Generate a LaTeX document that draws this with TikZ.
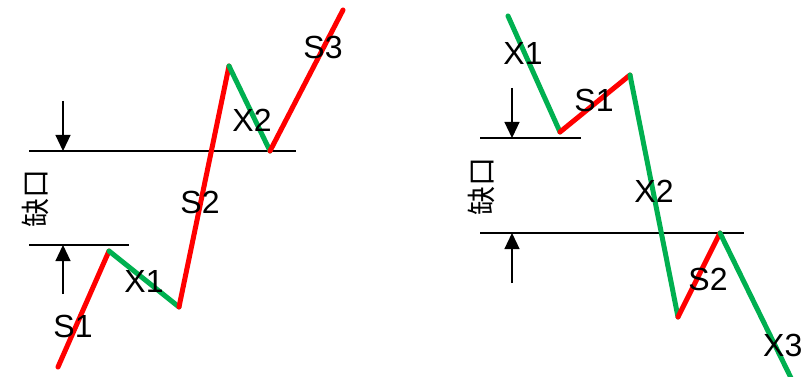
\documentclass[tikz,border=0pt]{standalone}
\usepackage{fontspec}
\setmainfont{Liberation Sans}
\newfontfamily\cjk{Noto Sans CJK SC}
\usetikzlibrary{arrows.meta}
\definecolor{upred}{HTML}{FF0000}
\definecolor{downgreen}{HTML}{00B050}
\tikzset{
  upseg/.style={draw=upred, line width=5pt, line cap=round},
  downseg/.style={draw=downgreen, line width=5pt, line cap=round},
  refline/.style={draw=black, line width=1.2pt},
  gaparrow/.style={draw=black, line width=1.2pt, -{Triangle[length=16pt,width=15pt]}},
  lbl/.style={font=\fontsize{32}{32}\selectfont, inner sep=0pt},
  gaplbl/.style={font=\cjk\fontsize{29}{29}\selectfont, rotate=90, inner sep=0pt}
}
\begin{document}
\begin{tikzpicture}[x=1pt,y=-1pt]
\useasboundingbox (0,0) rectangle (803,377);
% ---- left diagram ----
\coordinate (a0) at (58,367);
\coordinate (a1) at (109,251);
\coordinate (a2) at (179,307);
\coordinate (a3) at (229,66);
\coordinate (a4) at (270,151);
\coordinate (a5) at (343,10);
\coordinate (lu1) at (29,151);
\coordinate (lu2) at (296,151);
\coordinate (ll1) at (29,245);
\coordinate (ll2) at (129,245);
\coordinate (ld0) at (63,101);
\coordinate (ld1) at (63,151);
\coordinate (lp0) at (63,294);
\coordinate (lp1) at (63,245);
\draw[refline] (lu1) -- (lu2);
\draw[refline] (ll1) -- (ll2);
\draw[gaparrow] (ld0) -- (ld1);
\draw[gaparrow] (lp0) -- (lp1);
\path[upseg] (a0) -- (a1);
\path[downseg] (a1) -- (a2);
\path[upseg] (a2) -- (a3);
\path[downseg] (a3) -- (a4);
\path[upseg] (a4) -- (a5);
\node[lbl] (ls1) at (73,326) {S1};
\node[lbl] (lx1) at (144,281) {X1};
\node[lbl] (ls2) at (200,202) {S2};
\node[lbl] (lx2) at (252,120) {X2};
\node[lbl] (ls3) at (323,47) {S3};
\node[gaplbl] (lgap) at (35,198) {缺口};
% ---- right diagram ----
\coordinate (b0) at (508,16);
\coordinate (b1) at (560,132);
\coordinate (b2) at (630,75);
\coordinate (b3) at (678,317);
\coordinate (b4) at (720,233);
\coordinate (b5) at (792,380);
\coordinate (ru1) at (480,138);
\coordinate (ru2) at (581,138);
\coordinate (rl1) at (480,233);
\coordinate (rl2) at (744,233);
\coordinate (rd0) at (512,88);
\coordinate (rd1) at (512,138);
\coordinate (rp0) at (512,283);
\coordinate (rp1) at (512,233);
\draw[refline] (ru1) -- (ru2);
\draw[refline] (rl1) -- (rl2);
\draw[gaparrow] (rd0) -- (rd1);
\draw[gaparrow] (rp0) -- (rp1);
\path[downseg] (b0) -- (b1);
\path[upseg] (b1) -- (b2);
\path[downseg] (b2) -- (b3);
\path[upseg] (b3) -- (b4);
\path[downseg] (b4) -- (b5);
\node[lbl] (rx1) at (523,53) {X1};
\node[lbl] (rs1) at (594,100) {S1};
\node[lbl] (rx2) at (654,191) {X2};
\node[lbl] (rs2) at (708,279) {S2};
\node[lbl,anchor=west] (rx3) at (763,345) {X3};
\node[gaplbl] (rgap) at (481,186) {缺口};
\end{tikzpicture}
\end{document}
